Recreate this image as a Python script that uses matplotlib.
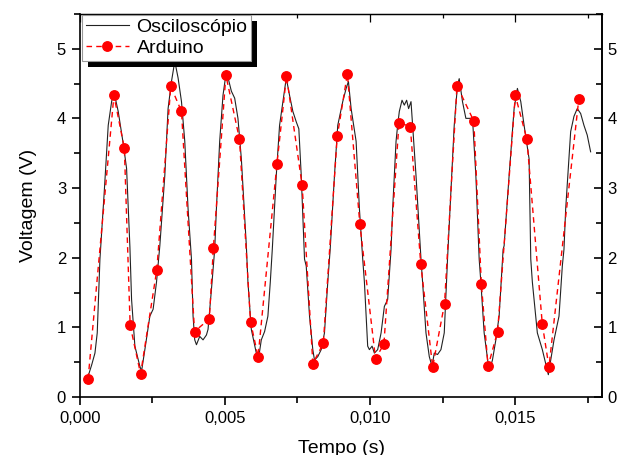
import matplotlib
matplotlib.use('Agg')
import matplotlib.pyplot as plt
import matplotlib.patheffects as pe
from matplotlib.ticker import MultipleLocator, FuncFormatter

plt.rcParams['font.family'] = ['Liberation Sans', 'DejaVu Sans']

# osciloscopio (tempo em ms, tensao em V)
osc_t_ms = [0.206, 0.403, 0.516, 0.595, 0.688, 0.836, 0.974, 1.091, 1.170, 1.318,
            1.490, 1.607, 1.721, 1.779, 1.893, 2.065, 2.123, 2.237, 2.409, 2.522,
            2.639, 2.753, 2.925, 3.038, 3.155, 3.269, 3.383, 3.500, 3.613, 3.727,
            3.844, 3.899, 3.957, 4.016, 4.129, 4.243, 4.360, 4.415, 4.532, 4.645,
            4.704, 4.817, 4.931, 5.048, 5.220, 5.334, 5.447, 5.564, 5.736, 5.791,
            5.908, 6.080, 6.159, 6.252, 6.366, 6.479, 6.562, 6.631, 6.768, 6.882,
            6.996, 7.113, 7.226, 7.340, 7.457, 7.546, 7.629, 7.742, 7.801, 7.915,
            8.028, 8.086, 8.200, 8.317, 8.430, 8.544, 8.627, 8.775, 8.888, 9.060,
            9.177, 9.256, 9.349, 9.521, 9.635, 9.749, 9.807, 9.920, 9.979, 10.072,
            10.151, 10.265, 10.382, 10.495, 10.609, 10.726, 10.781, 10.898, 10.953, 11.011,
            11.104, 11.183, 11.263, 11.331, 11.414, 11.469, 11.586, 11.758, 11.813, 11.930,
            12.044, 12.137, 12.216, 12.329, 12.446, 12.560, 12.673, 12.790, 12.904, 13.017,
            13.076, 13.189, 13.306, 13.420, 13.534, 13.650, 13.764, 13.822, 13.936, 14.108,
            14.222, 14.339, 14.452, 14.590, 14.624, 14.797, 14.969, 15.082, 15.199, 15.313,
            15.485, 15.543, 15.598, 15.770, 15.942, 16.149, 16.231, 16.345, 16.517, 16.631,
            16.688, 16.747, 16.919, 17.033, 17.146, 17.263, 17.377, 17.490, 17.607]
osc_v = [0.20, 0.46, 0.63, 0.92, 1.98, 2.94, 3.90, 4.24, 4.38, 4.10,
         3.64, 3.28, 2.16, 1.40, 0.73, 0.44, 0.37, 0.68, 1.16, 1.26,
         1.65, 2.17, 3.18, 4.14, 4.53, 4.82, 4.58, 4.24, 3.67, 2.70,
         1.98, 1.16, 0.82, 0.75, 0.87, 0.82, 0.89, 0.97, 1.54, 2.12,
         2.70, 3.67, 4.33, 4.68, 4.39, 4.29, 4.00, 3.42, 2.17, 1.65,
         0.97, 0.63, 0.56, 0.82, 0.94, 1.16, 1.65, 2.12, 3.18, 3.90,
         4.24, 4.58, 4.33, 4.10, 3.95, 3.85, 3.18, 1.98, 1.88, 1.16,
         0.68, 0.53, 0.58, 0.68, 0.92, 1.65, 2.12, 3.18, 3.90, 4.24,
         4.43, 4.53, 4.14, 3.67, 2.70, 1.98, 1.65, 0.73, 0.68, 0.73,
         0.63, 0.68, 0.92, 1.30, 1.40, 2.12, 2.70, 3.67, 3.90, 4.10,
         4.26, 4.19, 4.26, 4.14, 4.24, 3.90, 3.18, 1.98, 1.65, 0.92,
         0.58, 0.44, 0.63, 0.61, 0.68, 0.92, 1.98, 2.94, 3.90, 4.48,
         4.57, 4.24, 4.00, 4.00, 4.00, 3.18, 1.98, 1.65, 0.92, 0.37,
         0.53, 0.82, 1.16, 2.12, 2.17, 3.18, 4.14, 4.43, 4.24, 3.90,
         3.42, 1.98, 1.65, 0.92, 0.68, 0.32, 0.53, 0.82, 1.16, 1.88,
         2.12, 2.70, 3.81, 4.03, 4.14, 4.07, 3.90, 3.76, 3.52]

# arduino
ard_t_ms = [0.28, 1.17, 1.53, 1.73, 2.09, 2.65, 3.13, 3.50, 3.95, 4.46,
            4.60, 5.03, 5.50, 5.88, 6.14, 6.79, 7.12, 7.66, 8.03, 8.39,
            8.87, 9.22, 9.65, 10.19, 10.48, 11.00, 11.39, 11.75, 12.16, 12.57,
            13.00, 13.58, 13.84, 14.07, 14.40, 15.01, 15.41, 15.94, 16.17, 17.20]
ard_v = [0.26, 4.33, 3.57, 1.03, 0.33, 1.83, 4.46, 4.10, 0.94, 1.12,
         2.14, 4.62, 3.70, 1.08, 0.58, 3.34, 4.61, 3.04, 0.48, 0.77,
         3.74, 4.64, 2.48, 0.55, 0.76, 3.94, 3.88, 1.91, 0.43, 1.34,
         4.47, 3.96, 1.62, 0.44, 0.94, 4.33, 3.70, 1.05, 0.43, 4.28]

osc_t = [t / 1000 for t in osc_t_ms]
ard_t = [t / 1000 for t in ard_t_ms]

fig = plt.figure(figsize=(6.2, 4.55), dpi=100)
ax = fig.add_axes([0.129, 0.1275, 0.842, 0.842])

ax.plot(osc_t, osc_v, color='#222222', lw=0.8, label='Osciloscópio')
ax.plot(ard_t, ard_v, color='red', lw=1.0, ls=(0, (4, 3)), marker='o',
        ms=6.8, mec='red', mfc='red', label='Arduino')

ax.set_xlim(0, 0.018)
ax.set_ylim(0, 5.5)

ax.xaxis.set_major_locator(MultipleLocator(0.005))
ax.xaxis.set_minor_locator(MultipleLocator(0.0025))
ax.yaxis.set_major_locator(MultipleLocator(1))
ax.yaxis.set_minor_locator(MultipleLocator(0.5))
ax.xaxis.set_major_formatter(FuncFormatter(lambda v, p: f'{v:.3f}'.replace('.', ',')))
ax.yaxis.set_major_formatter(FuncFormatter(lambda v, p: f'{v:.0f}'))

ax.tick_params(which='both', direction='out', top=False, right=False,
               labelsize=12, width=1.2, pad=4)
ax.tick_params(which='major', length=6)
ax.tick_params(which='minor', length=4)
for s in ax.spines.values():
    s.set_linewidth(1.2)
ax.spines['top'].set_linewidth(0.9)

# eixos espelhados (topo e direita), ticks para dentro
sec_y = ax.secondary_yaxis('right')
sec_y.yaxis.set_major_locator(MultipleLocator(1))
sec_y.yaxis.set_minor_locator(MultipleLocator(0.5))
sec_y.yaxis.set_major_formatter(FuncFormatter(lambda v, p: f'{v:.0f}'))
sec_y.tick_params(which='both', direction='in', labelsize=12, width=1.2, pad=4)
sec_y.tick_params(which='major', length=6)
sec_y.tick_params(which='minor', length=4)
sec_y.spines['right'].set_linewidth(1.2)

sec_x = ax.secondary_xaxis('top')
sec_x.xaxis.set_major_locator(MultipleLocator(0.005))
sec_x.xaxis.set_minor_locator(MultipleLocator(0.0025))
sec_x.tick_params(which='both', direction='in', labeltop=False, width=0.9)
sec_x.tick_params(which='major', length=6)
sec_x.tick_params(which='minor', length=3)
sec_x.spines['top'].set_linewidth(0.9)

ax.set_xlabel('Tempo (s)', fontsize=14, labelpad=10)
ax.set_ylabel('Voltagem (V)', fontsize=14, labelpad=14)

leg = ax.legend(loc='upper left', bbox_to_anchor=(0.004, 0.998), borderaxespad=0,
                fontsize=14, frameon=True, fancybox=False, handlelength=2.2,
                handletextpad=0.4, borderpad=0.2, labelspacing=0.15)
frame = leg.get_frame()
frame.set_edgecolor('#999999')
frame.set_linewidth(0.8)
frame.set_alpha(1)
frame.set_path_effects([pe.SimplePatchShadow(offset=(4.3, -4.3), shadow_rgbFace='k', alpha=1),
                        pe.Normal()])

fig.savefig('out.png', dpi=100)
